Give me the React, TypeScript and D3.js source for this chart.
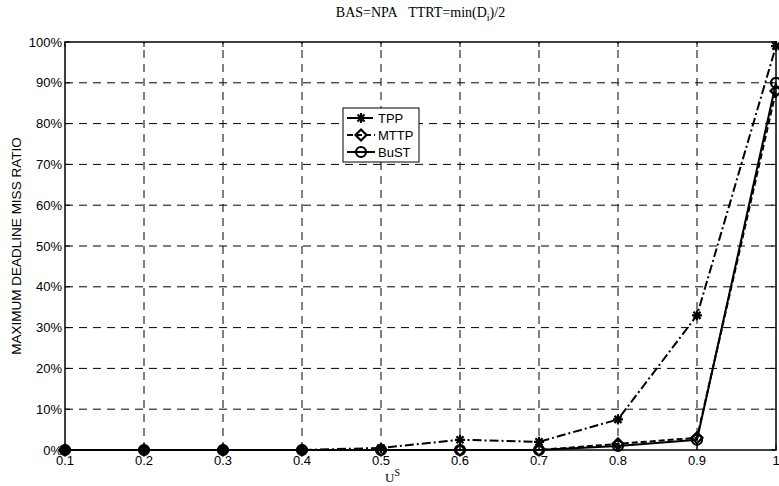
import React from 'react';
import * as d3 from 'd3';

const xs = [0.1, 0.2, 0.3, 0.4, 0.5, 0.6, 0.7, 0.8, 0.9, 1.0];
const tpp = [0, 0, 0, 0, 0.5, 2.5, 2, 7.5, 33, 99];
const mttp = [0, 0, 0, 0, 0, 0, 0, 1.5, 3, 88];
const bust = [0, 0, 0, 0, 0, 0, 0, 1, 2.5, 90];
const xTicks = [0.1, 0.2, 0.3, 0.4, 0.5, 0.6, 0.7, 0.8, 0.9, 1];
const yTicks = [0, 10, 20, 30, 40, 50, 60, 70, 80, 90, 100];

const series = [
  { name: 'TPP', values: tpp, dash: '9,3,2,3', marker: 'star' },
  { name: 'MTTP', values: mttp, dash: '6,3', marker: 'diamond' },
  { name: 'BuST', values: bust, dash: '', marker: 'circle' },
];

const W = 779, H = 486;
const margin = { left: 65, right: 3, top: 42, bottom: 36 };

function Marker({ type, x, y }: { type: string; x: number; y: number }) {
  if (type === 'circle')
    return <circle cx={x} cy={y} r={5} fill="none" stroke="black" strokeWidth={2.2} />;
  if (type === 'diamond') {
    const r = 5.5;
    return <path d={`M${x},${y - r}L${x + r},${y}L${x},${y + r}L${x - r},${y}Z`} fill="none" stroke="black" strokeWidth={2.2} />;
  }
  const r = 5;
  const d = [0, 45, 90, 135].map(a => {
    const t = (a * Math.PI) / 180;
    return `M${x - r * Math.cos(t)},${y - r * Math.sin(t)}L${x + r * Math.cos(t)},${y + r * Math.sin(t)}`;
  }).join('');
  return <path d={d} stroke="black" strokeWidth={2.2} />;
}

export default function App() {
  const x = d3.scaleLinear().domain([0.1, 1]).range([margin.left, W - margin.right]);
  const y = d3.scaleLinear().domain([0, 100]).range([H - margin.bottom, margin.top]);
  const line = d3.line<number>().x((_, i) => x(xs[i])).y(v => y(v));
  const x0 = x(0.1), x1 = x(1), y0 = y(0), y1 = y(100);
  const sans = 'Liberation Sans, Arial, sans-serif';
  const serif = 'Liberation Serif, Times New Roman, serif';

  const lx = 343, ly = 108, lw = 76, lh = 54;

  return (
    <svg width={W} height={H} style={{ position: 'absolute', left: 0, top: 0, background: 'white' }}>
      <rect width={W} height={H} fill="white" />
      {/* grid */}
      {xTicks.slice(1, -1).map(t => (
        <line key={'gx' + t} x1={x(t)} x2={x(t)} y1={y0} y2={y1} stroke="black" strokeWidth={1} strokeDasharray="8,6" />
      ))}
      {yTicks.slice(1, -1).map(t => (
        <line key={'gy' + t} x1={x0} x2={x1} y1={y(t)} y2={y(t)} stroke="black" strokeWidth={1} strokeDasharray="8,6" />
      ))}
      {/* ticks */}
      {xTicks.map(t => (
        <g key={'tx' + t}>
          <line x1={x(t)} x2={x(t)} y1={y0} y2={y0 - 5} stroke="black" />
          <line x1={x(t)} x2={x(t)} y1={y1} y2={y1 + 5} stroke="black" />
          <text x={x(t)} y={y0 + 15} textAnchor="middle" fontFamily={sans} fontSize={13}>{t === 1 ? '1' : t.toFixed(1)}</text>
        </g>
      ))}
      {yTicks.map(t => (
        <g key={'ty' + t}>
          <line x1={x0} x2={x0 + 5} y1={y(t)} y2={y(t)} stroke="black" />
          <line x1={x1} x2={x1 - 5} y1={y(t)} y2={y(t)} stroke="black" />
          <text x={x0 - 3} y={y(t) + 4.5} textAnchor="end" fontFamily={sans} fontSize={13}>{t}%</text>
        </g>
      ))}
      <rect x={x0} y={y1} width={x1 - x0} height={y0 - y1} fill="none" stroke="black" strokeWidth={1.5} />
      {/* series */}
      {series.map(s => (
        <g key={s.name}>
          <path d={line(s.values) || ''} fill="none" stroke="black" strokeWidth={2} strokeDasharray={s.dash} />
          {s.values.map((v, i) => <Marker key={i} type={s.marker} x={x(xs[i])} y={y(v)} />)}
        </g>
      ))}
      {/* legend */}
      <rect x={lx} y={ly} width={lw} height={lh} fill="white" stroke="black" strokeWidth={1} />
      {series.map((s, i) => {
        const yy = ly + 10 + i * 17;
        return (
          <g key={'l' + s.name}>
            <line x1={lx + 4} x2={lx + 32} y1={yy} y2={yy} stroke="black" strokeWidth={2} strokeDasharray={s.dash} />
            <Marker type={s.marker} x={lx + 18} y={yy} />
            <text x={lx + 35} y={yy + 5} fontFamily={sans} fontSize={13}>{s.name}</text>
          </g>
        );
      })}
      {/* titles */}
      <text x={(x0 + x1) / 2} y={17} textAnchor="middle" fontFamily={serif} fontSize={14}>
        BAS=NPA{'\u00a0\u00a0\u00a0'}TTRT=min(D<tspan fontSize={10} dy={4}>i</tspan><tspan dy={-4}>)/2</tspan>
      </text>
      <text x={(x0 + x1) / 2 - 28} y={482} textAnchor="middle" fontFamily={serif} fontSize={13}>
        U<tspan fontSize={10} dy={-6}>S</tspan>
      </text>
      <text transform={`translate(21,${(y0 + y1) / 2}) rotate(-90)`} textAnchor="middle" fontFamily={sans} fontSize={13.5}>
        MAXIMUM DEADLINE MISS RATIO
      </text>
    </svg>
  );
}
